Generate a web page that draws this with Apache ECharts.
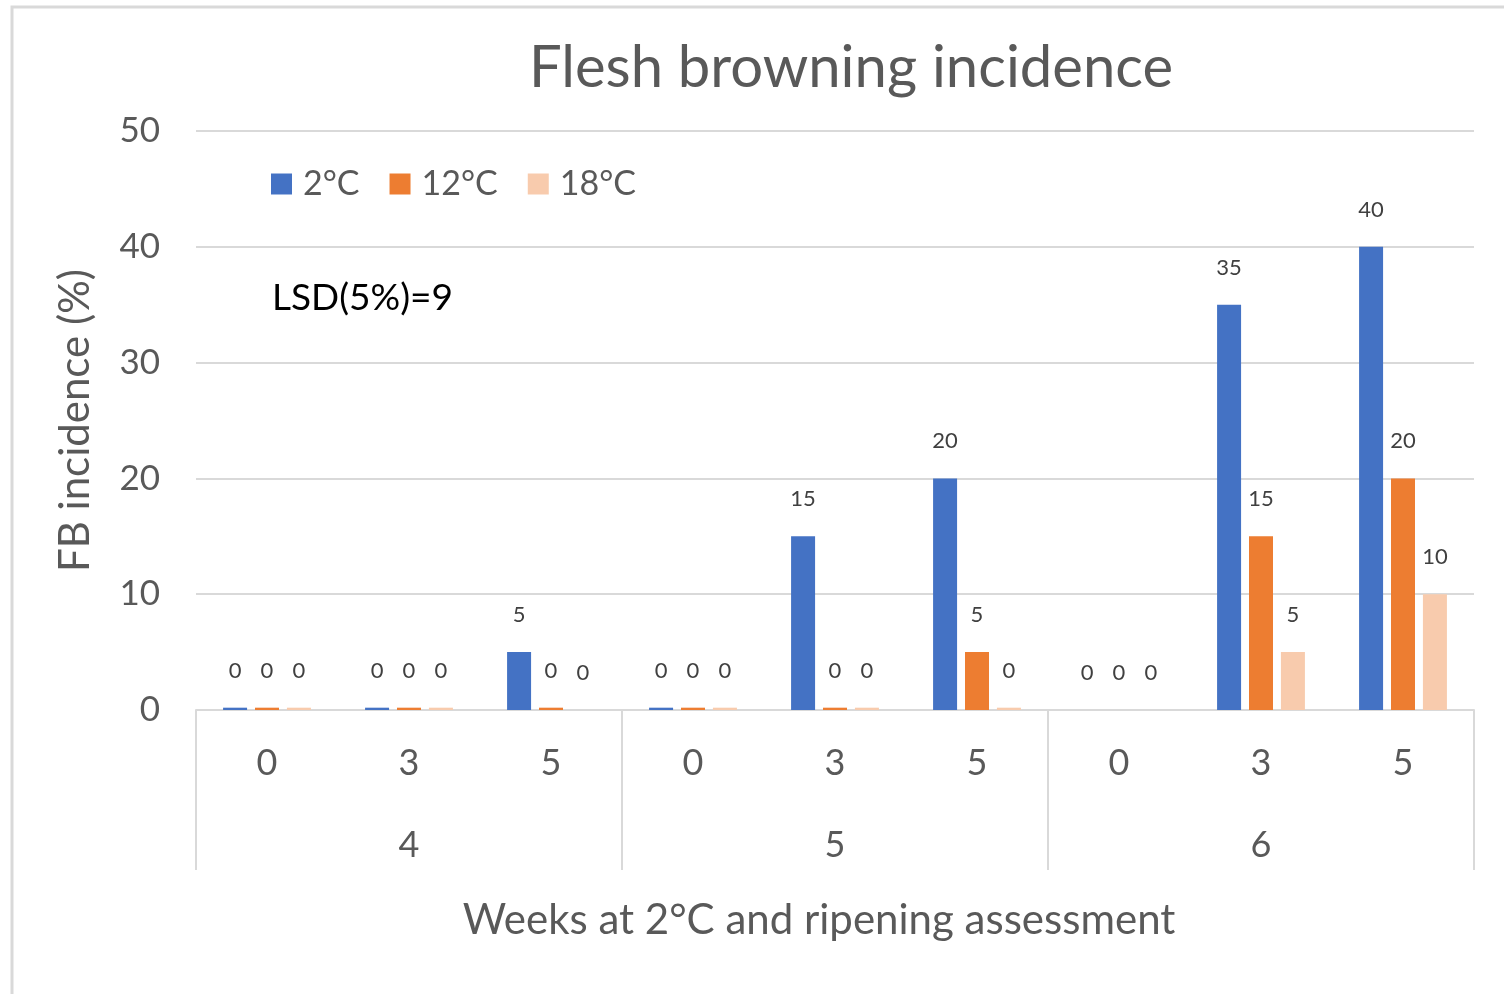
<!DOCTYPE html>
<html lang="en">
<head>
    <meta charset="UTF-8">
    <title>Flesh browning incidence</title>
    <style>
        html, body { margin: 0; padding: 0; background: #fff; }
        #chart { width: 1504px; height: 994px; }
    </style>
</head>
<body>
<div id="chart"></div>
<script src="https://cdn.jsdelivr.net/npm/echarts@6/dist/echarts.min.js"></script>
<script>
    // ripening assessment (days) inside each storage group (weeks at 2°C)
    var subCats = ['0', '3', '5', '0', '3', '5', '0', '3', '5'];
    var groups = ['4', '5', '6'];
    var seriesNames = ['2°C', '12°C', '18°C'];
    var colors = ['#4472C4', '#ED7D31', '#F8CBAD'];

    // tiny values show as the thin stubs Excel drew for "0"
    var s2 = [0.2, 0.2, 5, 0.2, 15, 20, 0, 35, 40];
    var s12 = [0.2, 0.2, 0.2, 0.2, 0.2, 5, 0, 15, 20];
    var s18 = [0.2, 0.2, 0, 0.2, 0.2, 0.2, 0, 5, 10];

    var font = 'Lato, "Liberation Sans", sans-serif';
    var grey = '#595959';

    var makeSeries = function (name, data, color) {
        return {
            name: name,
            type: 'bar',
            data: data,
            barWidth: 24,
            barGap: '33%',
            itemStyle: {color: color},
            label: {
                show: true,
                position: 'top',
                distance: 26,
                color: '#404040',
                fontSize: 22,
                fontFamily: font,
                formatter: function (p) {
                    return Math.round(p.value);
                }
            }
        };
    };

    var option = {
        animation: false,
        backgroundColor: '#fff',
        title: {
            text: 'Flesh browning incidence',
            left: 846,
            textAlign: 'center',
            top: 34,
            textStyle: {color: grey, fontSize: 58, fontWeight: 'normal', fontFamily: font}
        },
        legend: {
            data: seriesNames,
            left: 266,
            top: 162,
            icon: 'rect',
            itemWidth: 21,
            itemHeight: 21,
            itemGap: 30,
            textStyle: {color: grey, fontSize: 34, fontFamily: font, padding: [0, 0, 0, 6]}
        },
        grid: {
            left: 196,
            right: 30,
            top: 131,
            bottom: 284,
            containLabel: false
        },
        xAxis: [
            {
                type: 'category',
                data: subCats,
                position: 'bottom',
                axisLine: {lineStyle: {color: '#d9d9d9', width: 2}},
                axisTick: {show: false},
                axisLabel: {
                    interval: 0,
                    margin: 35,
                    color: grey,
                    fontSize: 36,
                    fontFamily: font
                }
            },
            {
                type: 'category',
                data: groups,
                position: 'bottom',
                axisLine: {show: false},
                axisTick: {
                    show: true,
                    length: 160,
                    lineStyle: {color: '#d9d9d9', width: 2}
                },
                axisLabel: {
                    interval: 0,
                    margin: 117,
                    color: grey,
                    fontSize: 36,
                    fontFamily: font
                }
            }
        ],
        yAxis: {
            type: 'value',
            min: 0,
            max: 50,
            interval: 10,
            name: 'FB incidence (%)',
            nameLocation: 'middle',
            nameGap: 100,
            nameTextStyle: {color: grey, fontSize: 42, fontFamily: font},
            axisLine: {show: false},
            axisTick: {show: false},
            axisLabel: {color: grey, fontSize: 35, fontFamily: font, margin: 36},
            splitLine: {lineStyle: {color: '#d9d9d9', width: 2}}
        },
        graphic: [
            {
                type: 'rect',
                shape: {x: 12, y: 7, width: 1700, height: 1200},
                style: {fill: 'none', stroke: '#d9d9d9', lineWidth: 3},
                silent: true
            },
            {
                type: 'text',
                left: 272,
                top: 280,
                style: {text: 'LSD(5%)=9', fill: '#000', fontSize: 37, fontFamily: font}
            },
            {
                type: 'text',
                x: 819,
                y: 920,
                style: {
                    text: 'Weeks at 2°C and ripening assessment',
                    fill: grey,
                    fontSize: 42,
                    fontFamily: font,
                    align: 'center',
                    verticalAlign: 'middle'
                }
            }
        ],
        series: [
            makeSeries(seriesNames[0], s2, colors[0]),
            makeSeries(seriesNames[1], s12, colors[1]),
            makeSeries(seriesNames[2], s18, colors[2])
        ]
    };

    var myChart = echarts.init(document.getElementById('chart'));
    myChart.setOption(option);
</script>
</body>
</html>
